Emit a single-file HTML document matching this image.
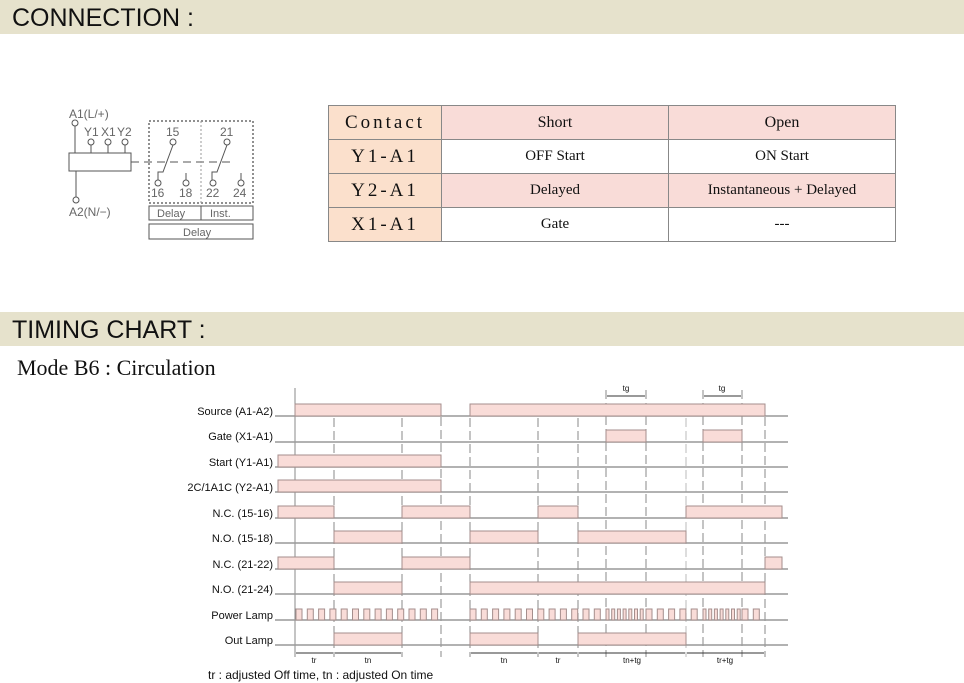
<!DOCTYPE html>
<html><head><meta charset="utf-8"><style>
body{margin:0;width:964px;height:683px;background:#fff;position:relative;overflow:hidden;font-family:"Liberation Sans",sans-serif}
.bar{position:absolute;left:0;width:964px;height:34px;background:#e6e2cc;font-size:25px;line-height:36px;padding-left:12px;box-sizing:border-box;color:#111}
table{position:absolute;left:328px;top:105px;border-collapse:collapse;font-family:"Liberation Serif",serif}
td{border:1px solid #888;height:33px;padding:0;text-align:center;font-size:15px;color:#111}
td.c{width:112px;background:#fbe0cc;font-size:19px;letter-spacing:3px}
td.p{background:#f9dcd8}
</style></head><body>
<div class="bar" style="top:0">CONNECTION :</div>
<div class="bar" style="top:312px">TIMING CHART :</div>
<div style="position:absolute;left:17px;top:355px;font-family:'Liberation Serif',serif;font-size:22px;color:#111">Mode B6 : Circulation</div>
<table>
<tr><td class="c">Contact</td><td class="p" style="width:226px;font-size:16px">Short</td><td class="p" style="width:226px;font-size:16px">Open</td></tr>
<tr><td class="c">Y1-A1</td><td>OFF Start</td><td>ON Start</td></tr>
<tr><td class="c">Y2-A1</td><td class="p">Delayed</td><td class="p">Instantaneous + Delayed</td></tr>
<tr><td class="c">X1-A1</td><td>Gate</td><td>---</td></tr>
</table>
<svg style="position:absolute;left:0;top:0" width="964" height="683" font-family="Liberation Sans,sans-serif">
<g stroke="#555" fill="none" stroke-width="1">
<circle cx="75" cy="123" r="3" fill="#fff"/><line x1="75" y1="126" x2="75" y2="153"/>
<rect x="69" y="153" width="62" height="18"/>
<circle cx="91" cy="142" r="3"/><line x1="91" y1="145" x2="91" y2="153"/>
<circle cx="108" cy="142" r="3"/><line x1="108" y1="145" x2="108" y2="153"/>
<circle cx="125" cy="142" r="3"/><line x1="125" y1="145" x2="125" y2="153"/>
<line x1="76" y1="171" x2="76" y2="197"/><circle cx="76" cy="200" r="3"/>
<line x1="131" y1="162" x2="232" y2="162" stroke-dasharray="8,5"/>
<rect x="149" y="121" width="104" height="82" stroke="#222" stroke-dasharray="2,2"/>
<line x1="201" y1="121" x2="201" y2="203" stroke="#999" stroke-dasharray="2,2"/>
<circle cx="173" cy="142" r="3"/><polyline points="173,145 163,172 158,172 158,180"/><circle cx="158" cy="183" r="3"/>
<line x1="186" y1="173" x2="186" y2="180"/><circle cx="186" cy="183" r="3"/>
<circle cx="227" cy="142" r="3"/><polyline points="227,145 217,172 212,172 212,180"/><circle cx="213" cy="183" r="3"/>
<line x1="241" y1="173" x2="241" y2="180"/><circle cx="241" cy="183" r="3"/>
<rect x="149" y="206" width="104" height="14"/><line x1="201" y1="206" x2="201" y2="220"/>
<rect x="149" y="224" width="104" height="15"/>
</g>
<g fill="#666" font-size="12">
<text x="69" y="118">A1(L/+)</text><text x="84" y="136">Y1</text><text x="101" y="136">X1</text><text x="117" y="136">Y2</text>
<text x="69" y="216">A2(N/−)</text><text x="166" y="136">15</text><text x="220" y="136">21</text>
<text x="151" y="197">16</text><text x="179" y="197">18</text><text x="206" y="197">22</text><text x="233" y="197">24</text>
<text x="157" y="217" font-size="11">Delay</text><text x="210" y="217" font-size="11">Inst.</text><text x="183" y="236" font-size="11">Delay</text>
</g>
<g stroke="#888" stroke-dasharray="9,4">
<line x1="295" y1="388" x2="295" y2="657" stroke-dasharray="none"/>
<line x1="334" y1="418" x2="334" y2="657"/><line x1="402" y1="418" x2="402" y2="657"/>
<line x1="441" y1="404" x2="441" y2="657"/><line x1="470" y1="418" x2="470" y2="657"/>
<line x1="538" y1="418" x2="538" y2="657"/><line x1="578" y1="418" x2="578" y2="657"/>
<line x1="606" y1="390" x2="606" y2="657"/><line x1="646" y1="390" x2="646" y2="657"/>
<line x1="686" y1="418" x2="686" y2="657" stroke="#bbb"/><line x1="703" y1="390" x2="703" y2="657"/>
<line x1="742" y1="390" x2="742" y2="657"/><line x1="765" y1="404" x2="765" y2="657"/>
</g>
<g stroke="#999" stroke-width="1.5">
<line x1="275" y1="416" x2="788" y2="416"/><line x1="275" y1="442" x2="788" y2="442"/>
<line x1="275" y1="467" x2="788" y2="467"/><line x1="275" y1="492" x2="788" y2="492"/>
<line x1="275" y1="518" x2="788" y2="518"/><line x1="275" y1="543" x2="788" y2="543"/>
<line x1="275" y1="569" x2="788" y2="569"/><line x1="275" y1="594" x2="788" y2="594"/>
<line x1="275" y1="620" x2="788" y2="620"/><line x1="275" y1="645" x2="788" y2="645"/>
</g>
<g fill="#f9dcd8" stroke="#a58e8c">
<rect x="295" y="404" width="146" height="12"/><rect x="470" y="404" width="295" height="12"/>
<rect x="606" y="430" width="40" height="12"/><rect x="703" y="430" width="39" height="12"/>
<rect x="278" y="455" width="163" height="12"/><rect x="278" y="480" width="163" height="12"/>
<rect x="278" y="506" width="56" height="12"/><rect x="402" y="506" width="68" height="12"/><rect x="538" y="506" width="40" height="12"/><rect x="686" y="506" width="96" height="12"/>
<rect x="334" y="531" width="68" height="12"/><rect x="470" y="531" width="68" height="12"/><rect x="578" y="531" width="108" height="12"/>
<rect x="278" y="557" width="56" height="12"/><rect x="402" y="557" width="68" height="12"/><rect x="765" y="557" width="17" height="12"/>
<rect x="334" y="582" width="68" height="12"/><rect x="470" y="582" width="295" height="12"/>
<rect x="334" y="633" width="68" height="12"/><rect x="470" y="633" width="68" height="12"/><rect x="578" y="633" width="108" height="12"/>
</g>
<g fill="#f9dcd8" stroke="#a58e8c">
<rect x="296" y="609" width="6" height="11"/><rect x="307.3" y="609" width="6" height="11"/><rect x="318.6" y="609" width="6" height="11"/><rect x="329.9" y="609" width="6" height="11"/><rect x="341.2" y="609" width="6" height="11"/><rect x="352.5" y="609" width="6" height="11"/><rect x="363.8" y="609" width="6" height="11"/><rect x="375.1" y="609" width="6" height="11"/><rect x="386.4" y="609" width="6" height="11"/><rect x="397.7" y="609" width="6" height="11"/><rect x="409" y="609" width="6" height="11"/><rect x="420.3" y="609" width="6" height="11"/><rect x="431.6" y="609" width="6" height="11"/>
<rect x="470" y="609" width="6" height="11"/><rect x="481.3" y="609" width="6" height="11"/><rect x="492.6" y="609" width="6" height="11"/><rect x="503.9" y="609" width="6" height="11"/><rect x="515.2" y="609" width="6" height="11"/><rect x="526.5" y="609" width="6" height="11"/><rect x="537.8" y="609" width="6" height="11"/><rect x="549.1" y="609" width="6" height="11"/><rect x="560.4" y="609" width="6" height="11"/><rect x="571.7" y="609" width="6" height="11"/><rect x="583" y="609" width="6" height="11"/><rect x="594.3" y="609" width="6" height="11"/>
<rect x="606" y="609" width="3" height="11"/><rect x="611.7" y="609" width="3" height="11"/><rect x="617.4" y="609" width="3" height="11"/><rect x="623.1" y="609" width="3" height="11"/><rect x="628.8" y="609" width="3" height="11"/><rect x="634.5" y="609" width="3" height="11"/><rect x="640.2" y="609" width="3" height="11"/>
<rect x="646" y="609" width="6" height="11"/><rect x="657.3" y="609" width="6" height="11"/><rect x="668.6" y="609" width="6" height="11"/><rect x="679.9" y="609" width="6" height="11"/><rect x="691.2" y="609" width="6" height="11"/>
<rect x="703" y="609" width="3" height="11"/><rect x="708.7" y="609" width="3" height="11"/><rect x="714.4" y="609" width="3" height="11"/><rect x="720.1" y="609" width="3" height="11"/><rect x="725.8" y="609" width="3" height="11"/><rect x="731.5" y="609" width="3" height="11"/><rect x="737.2" y="609" width="3" height="11"/>
<rect x="742" y="609" width="6" height="11"/><rect x="753.3" y="609" width="6" height="11"/>
</g>
<g stroke="#333" fill="#333">
<line x1="296" y1="653" x2="333" y2="653"/><line x1="335" y1="653" x2="401" y2="653"/>
<line x1="471" y1="653" x2="537" y2="653"/><line x1="539" y1="653" x2="577" y2="653"/>
<line x1="579" y1="653" x2="685" y2="653"/><line x1="687" y1="653" x2="764" y2="653"/>
<line x1="607" y1="396" x2="645" y2="396"/><line x1="704" y1="396" x2="741" y2="396"/>
</g>
<g font-size="11" fill="#111" text-anchor="end">
<text x="273" y="415">Source (A1-A2)</text><text x="273" y="440">Gate (X1-A1)</text>
<text x="273" y="466">Start (Y1-A1)</text><text x="273" y="491">2C/1A1C (Y2-A1)</text>
<text x="273" y="517">N.C. (15-16)</text><text x="273" y="542">N.O. (15-18)</text>
<text x="273" y="568">N.C. (21-22)</text><text x="273" y="593">N.O. (21-24)</text>
<text x="273" y="619">Power  Lamp</text><text x="273" y="644">Out  Lamp</text>
</g>
<g font-size="8" fill="#111" text-anchor="middle">
<text x="314" y="663">tr</text><text x="368" y="663">tn</text><text x="504" y="663">tn</text><text x="558" y="663">tr</text>
<text x="632" y="663">tn+tg</text><text x="725" y="663">tr+tg</text>
<text x="626" y="391">tg</text><text x="722" y="391">tg</text>
</g>
<text x="208" y="679" font-size="12" fill="#111">tr : adjusted Off time, tn : adjusted On time</text>
</svg>
</body></html>
